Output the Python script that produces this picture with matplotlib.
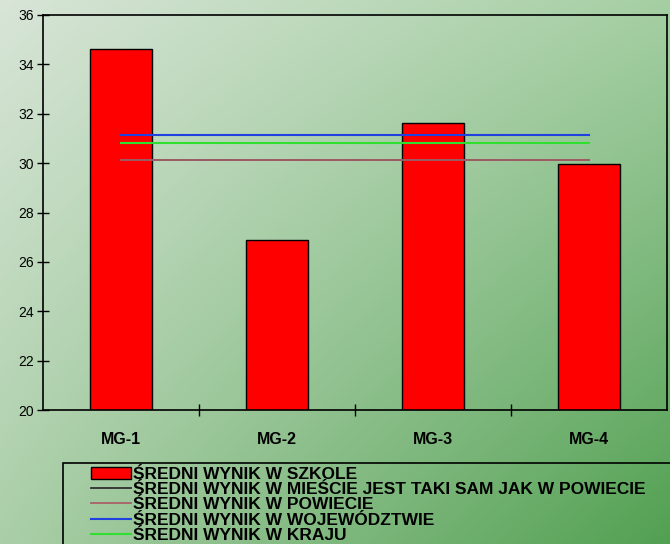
import numpy as np
import matplotlib
matplotlib.use("Agg")
import matplotlib.pyplot as plt
from matplotlib.patches import Rectangle

categories = ["MG-1", "MG-2", "MG-3", "MG-4"]
szkola = [34.63, 26.9, 31.62, 29.98]
miasto = [30.13, 30.13, 30.13, 30.13]
powiat = [30.13, 30.13, 30.13, 30.13]
wojewodztwo = [31.15, 31.15, 31.15, 31.15]
kraj = [30.8, 30.8, 30.8, 30.8]
yticks = [20, 22, 24, 26, 28, 30, 32, 34, 36]
labels = ["ŚREDNI WYNIK W SZKOLE",
          "ŚREDNI WYNIK W MIEŚCIE JEST TAKI SAM JAK W POWIECIE",
          "ŚREDNI WYNIK W POWIECIE",
          "ŚREDNI WYNIK W WOJEWÓDZTWIE",
          "ŚREDNI WYNIK W KRAJU"]

plt.rcParams['font.family'] = ['Liberation Sans', 'DejaVu Sans']

fig = plt.figure(figsize=(6.7, 5.44), dpi=100)

# background gradient
bg = fig.add_axes([0, 0, 1, 1], zorder=-10)
ny, nx = 200, 200
u = np.linspace(0, 1, nx)[None, :, None]
v = np.linspace(0, 1, ny)[:, None, None]
TL = np.array([216, 229, 215]) / 255
TR = np.array([165, 207, 163]) / 255
BL = np.array([170, 207, 168]) / 255
BR = np.array([82, 160, 82]) / 255
img = (TL * (1 - u) * (1 - v) + TR * u * (1 - v) + BL * (1 - u) * v + BR * u * v)
bg.imshow(img, aspect='auto', extent=[0, 1, 1, 0])
bg.set_xlim(0, 1); bg.set_ylim(1, 0)
bg.axis('off')

ax = fig.add_axes([43/670, 1-410/544, (667-43)/670, (410-15)/544])
ax.patch.set_alpha(0)
x = np.arange(len(categories))
h0 = ax.bar(x, szkola, width=0.4, color='#ff0000', edgecolor='black', linewidth=1.0,
            label=labels[0], zorder=2)
h1, = ax.plot(x, miasto, color='#303030', lw=1.3, label=labels[1], zorder=3)
h2, = ax.plot(x, powiat, color='#a86068', lw=1.3, label=labels[2], zorder=4)
h3, = ax.plot(x, wojewodztwo, color='#2040e0', lw=1.5, label=labels[3], zorder=4)
h4, = ax.plot(x, kraj, color='#30e030', lw=1.5, label=labels[4], zorder=4)

ax.set_xlim(-0.5, 3.5)
ax.set_ylim(20, 36)
ax.set_yticks(yticks)
ax.set_yticklabels([str(t) for t in yticks], fontsize=10)
ax.set_xticks(x)
ax.set_xticklabels(categories, fontsize=11.5, fontweight='bold')
ax.set_xticks([0.5, 1.5, 2.5], minor=True)
ax.tick_params(axis='x', which='major', length=0, pad=16)
ax.tick_params(axis='x', which='minor', length=8, direction='inout', width=1)
ax.tick_params(axis='y', length=9, direction='inout', width=1, pad=2)
for s in ax.spines.values():
    s.set_linewidth(1.2)
    s.set_color('black')

leg = fig.legend([h0, h1, h2, h3, h4], labels, loc='upper left',
                 bbox_to_anchor=(97/670 - 0.014, 1-463/544 - 0.001),
                 bbox_transform=fig.transFigure, frameon=False,
                 prop={'family': ['Liberation Sans', 'DejaVu Sans'], 'weight': 'bold', 'size': 12.5},
                 handlelength=2.3, handletextpad=0.1, labelspacing=0.0,
                 borderpad=0.2, borderaxespad=0)
fig.patches.append(Rectangle((63/670, -0.05), 1.0, 0.05 + (544-463)/544,
                             transform=fig.transFigure, fill=False,
                             edgecolor='black', lw=1.2, zorder=5))

fig.savefig('out.png', dpi=100)
